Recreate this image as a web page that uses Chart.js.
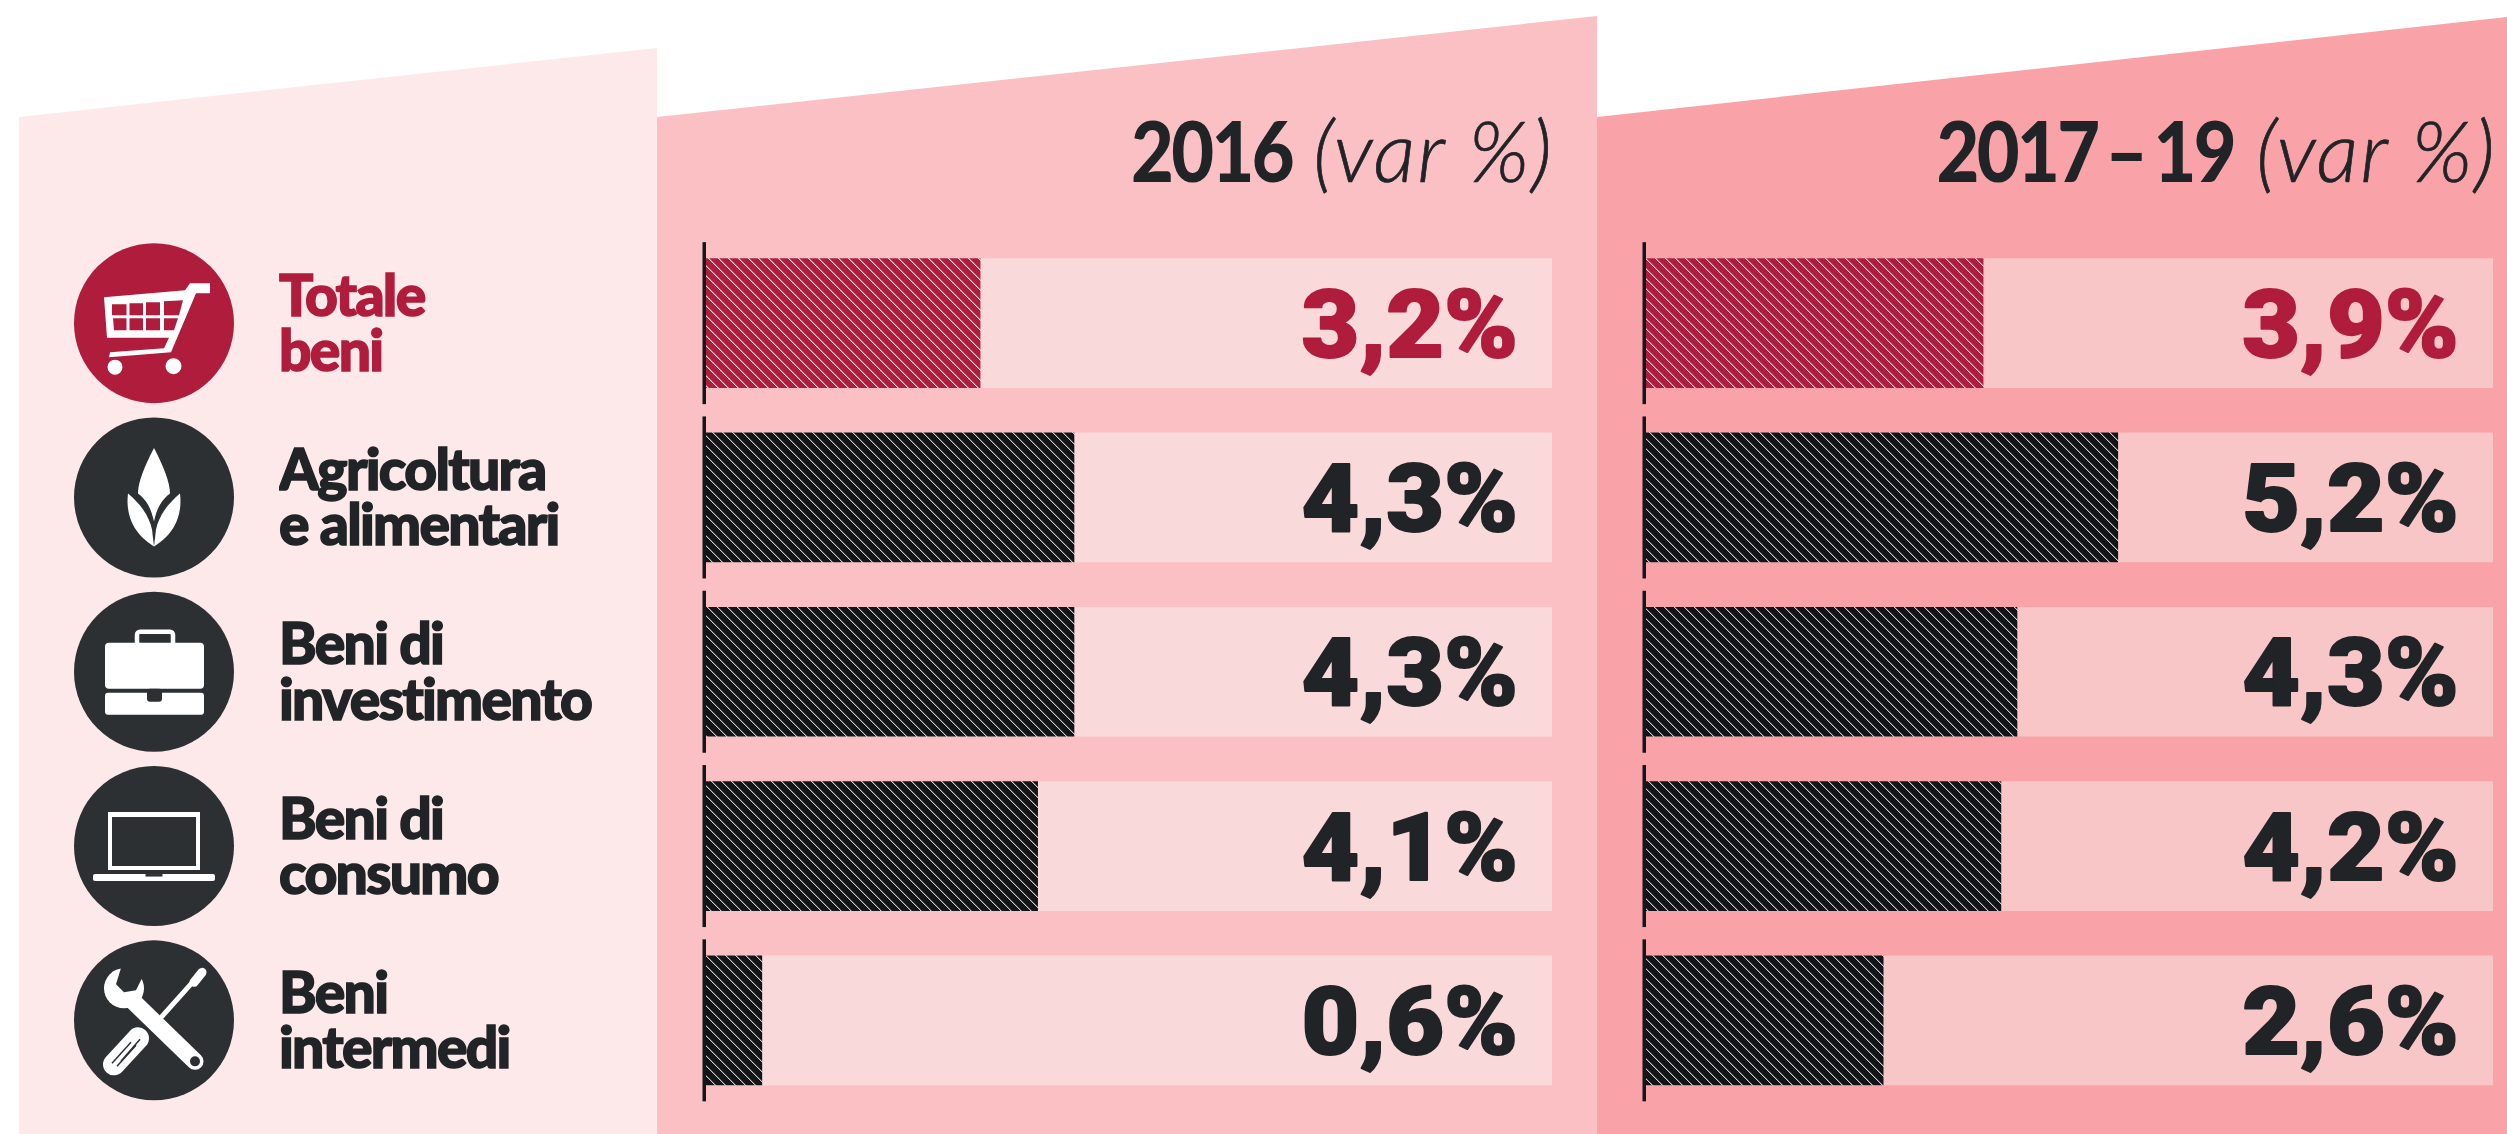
<!DOCTYPE html>
<html lang="it">
<head>
<meta charset="utf-8">
<title>Export beni 2016 e 2017-19</title>
<script src="https://cdn.jsdelivr.net/npm/chart.js@4"></script>
<style>
  html, body { margin: 0; background: #fff; }
  #page { position: relative; width: 2507px; height: 1134px; overflow: hidden; font-family: Lato, sans-serif; }
  .panel { position: absolute; top: 0; height: 1134px; }
  #panelA { left: 19px; width: 638px; background: #fde9e9; clip-path: polygon(0 117px, 638px 48px, 638px 1134px, 0 1134px); }
  #panelB { left: 657px; width: 940px; background: #fac0c4; clip-path: polygon(0 117px, 940px 16px, 940px 1134px, 0 1134px); }
  #panelC { left: 1597px; width: 910px; background: #f9a3a8; clip-path: polygon(0 117px, 910px 17px, 910px 1134px, 0 1134px); }
  canvas { position: absolute; top: 0; }
  #chartA { left: 0; }
  #chartB { left: 1597px; }
  .head { position: absolute; top: 100px; color: #212427; font-size: 84px; line-height: 100px; white-space: nowrap; text-align: right; }
  .head b { display: inline-block; font-weight: 900; letter-spacing: -3px; word-spacing: -8px; transform: scaleX(.88); transform-origin: 100% 50%; }
  .head i { font-weight: 300; letter-spacing: 2px; -webkit-text-stroke: .7px #212427; }
  #headA { right: 953px; }
  #headB { right: 10px; }
</style>
</head>
<body>
<div id="page">
  <div class="panel" id="panelA"></div>
  <div class="panel" id="panelB"></div>
  <div class="panel" id="panelC"></div>
  <canvas id="chartA" width="1597" height="1134"></canvas>
  <canvas id="chartB" width="910" height="1134"></canvas>
  <div class="head" id="headA"><b>2016</b> <i>(var %)</i></div>
  <div class="head" id="headB"><b>2017 – 19</b> <i>(var %)</i></div>
</div>
<script>
const categories = [['Totale', 'beni'], ['Agricoltura', 'e alimentari'], ['Beni di', 'investimento'], ['Beni di', 'consumo'], ['Beni', 'intermedi']];

// printed figures
const values2016 = [3.2, 4.3, 4.3, 4.1, 0.6];
const values2017 = [3.9, 5.2, 4.3, 4.2, 2.6];

// the bars in the picture are not quite proportional to the printed figures,
// so their lengths are read off separately, as % of the pale track
const barLength2016 = [32.4, 43.5, 43.5, 39.2, 6.6];
const barLength2017 = [39.8, 55.7, 43.8, 41.9, 28.0];
const track = [100, 100, 100, 100, 100];

const RED = '#b01c3c';
const DARK = '#212427';
const BAR_DARK = '#131416';
const ICON_DARK = '#2d3033';
const WHITE = '#ffffff';

function hatch(color, line, soft) {
  const size = 10;
  const tile = document.createElement('canvas');
  tile.width = tile.height = size;
  const c = tile.getContext('2d');
  c.fillStyle = color;
  c.fillRect(0, 0, size, size);
  for (let i = 0; i < size; i++) {
    c.fillStyle = soft;
    c.fillRect((i + 1) % size, i, 1, 1);
    c.fillStyle = line;
    c.fillRect(i, i, 1, 1);
  }
  return c.createPattern(tile, 'repeat');
}
const hatchRed = hatch(RED, '#f6d5da', '#cf6d83');
const hatchDark = hatch(BAR_DARK, '#c8c8c8', '#55565a');
const barColors = categories.map((_, i) => i === 0 ? hatchRed : hatchDark);

// black tick beside each bar + printed figure inside the track
const rowMarks = {
  id: 'rowMarks',
  afterDatasetsDraw(chart, args, opts) {
    const { ctx, chartArea, scales } = chart;
    ctx.save();
    ctx.fillStyle = '#14161a';
    categories.forEach((_, i) => {
      ctx.fillRect(chartArea.left - 3.5, scales.y.getPixelForTick(i) - 81, 3.5, 162);
    });
    ctx.font = '900 95px Roboto';
    ctx.letterSpacing = '0px';
    ctx.textAlign = 'left';
    ctx.textBaseline = 'alphabetic';
    ctx.lineWidth = 2;
    ctx.lineJoin = 'round';
    opts.values.forEach((v, i) => {
      ctx.fillStyle = ctx.strokeStyle = i === 0 ? RED : DARK;
      const text = v.toFixed(1).replace('.', ',') + '%';
      ctx.save();
      ctx.translate(scales.x.getPixelForValue(70.4), scales.y.getPixelForTick(i) + 33.5);
      ctx.scale(1.05, 1); // the original figures are a bit wider than Roboto
      ctx.fillText(text, 0, 0);
      ctx.strokeText(text, 0, 0);
      ctx.restore();
    });
    ctx.restore();
  }
};

function line(ctx, x1, y1, x2, y2, width) {
  ctx.lineWidth = width;
  ctx.beginPath();
  ctx.moveTo(x1, y1);
  ctx.lineTo(x2, y2);
  ctx.stroke();
}

const icons = [
  function cart(ctx, bg) {
    ctx.fill(new Path2D('M-50 -26L31 -33L36 -40L56 -40L56 -30L42 -30L17 29L-45 34L-44 29L10 25L15 14.5L-47 14.5Z'));
    ctx.beginPath();
    ctx.arc(-39, 44, 7.5, 0, 7);
    ctx.arc(19.5, 43, 8, 0, 7);
    ctx.fill();
    ctx.fillStyle = bg;
    ctx.fill(new Path2D('M-42 -19H-27.5V-8H-42ZM-24.5 -20H-11V-8H-24.5ZM-8 -21H6V-8H-8ZM10 -22L29 -23L25 -8H10ZM-41 -5H-27.5V7H-40ZM-24.5 -5H-11V7H-24.5ZM-8 -5H6V7H-8ZM10 -5H24L20 7H10Z'));
  },
  function leaf(ctx) {
    ctx.fill(new Path2D('M0 -49.5C-10 -30 -16 -15 -16 -4C-8 2 -3 10 0 24C3 10 8 2 16 -4C16 -15 10 -30 0 -49.5Z'));
    ctx.fill(new Path2D('M-26 -4C-14 6 -5 18 -2 32L0 49C-18 38 -29 20 -26 -4Z'));
    ctx.fill(new Path2D('M26 -4C14 6 5 18 2 32L0 49C18 38 29 20 26 -4Z'));
  },
  function briefcase(ctx, bg) {
    const p = new Path2D();
    p.roundRect(-49, -29, 99, 46, 4);
    p.roundRect(-49, 21, 99, 22, 3);
    ctx.fill(p);
    ctx.strokeStyle = WHITE;
    ctx.lineWidth = 4.5;
    ctx.beginPath();
    ctx.roundRect(-17, -40, 36, 14, 3);
    ctx.stroke();
    ctx.fillStyle = bg;
    ctx.beginPath();
    ctx.roundRect(-7, 17, 15, 13, 3);
    ctx.fill();
  },
  function laptop(ctx, bg) {
    ctx.fill(new Path2D('M-46 -34H46V24H-46ZM-42 -29V20H42V-29Z'), 'evenodd');
    ctx.beginPath();
    ctx.roundRect(-61, 28, 122, 7, 2);
    ctx.fill();
    ctx.fillStyle = bg;
    ctx.fillRect(-8.5, 28, 17, 2.5);
  },
  function tools(ctx, bg) {
    ctx.strokeStyle = WHITE;
    ctx.lineCap = 'round';
    // screwdriver
    line(ctx, 42, -42, 8, -4, 5);
    line(ctx, 40, -38, 48, -48, 9);
    line(ctx, -16, 18, -40, 44, 22);
    ctx.save();
    ctx.strokeStyle = bg;
    ctx.lineCap = 'butt';
    line(ctx, -18, 25, -37, 46, 1.5);
    line(ctx, -23, 22, -42, 43, 1.5);
    line(ctx, -14, 19, -33, 41, 1.5);
    ctx.restore();
    // wrench
    line(ctx, -24, -22, 41, 41, 17);
    ctx.beginPath();
    ctx.arc(-30, -32, 20, 0, 7);
    ctx.fill();
    ctx.fillStyle = bg;
    ctx.fill(new Path2D('M-38 -36L-30 -28L-18 -30L-8 -50L-30 -62Z'));
    ctx.beginPath();
    ctx.arc(41, 41, 5, 0, 7);
    ctx.fill();
  }
];

const rowIcons = {
  id: 'rowIcons',
  beforeDraw(chart) {
    chart.ctx.letterSpacing = '-1.7px';
  },
  afterDatasetsDraw(chart) {
    const { ctx, scales } = chart;
    icons.forEach((draw, i) => {
      const bg = i === 0 ? RED : ICON_DARK;
      ctx.save();
      ctx.translate(154, scales.y.getPixelForTick(i));
      ctx.fillStyle = bg;
      ctx.beginPath();
      ctx.arc(0, 0, 80, 0, 7);
      ctx.fill();
      ctx.fillStyle = WHITE;
      draw(ctx, bg);
      ctx.restore();
    });
  }
};

function makeChart(id, lengths, values, trackColor, padLeft, padRight, showLabels) {
  return new Chart(document.getElementById(id), {
    type: 'bar',
    data: {
      labels: categories,
      datasets: [
        { data: lengths, backgroundColor: barColors, order: 0 },
        { data: track, backgroundColor: trackColor, order: 1 }
      ]
    },
    options: {
      indexAxis: 'y',
      responsive: false,
      animation: false,
      barThickness: 129,
      grouped: false,
      layout: { padding: { left: padLeft, right: padRight, top: 236, bottom: 26.5 } },
      scales: {
        x: { display: false, min: 0, max: 100 },
        y: {
          display: showLabels,
          grid: { display: false },
          border: { display: false },
          afterFit(scale) {
            if (showLabels) scale.width = 427;
            scale.paddingTop = 0;
            scale.paddingBottom = 0;
          },
          ticks: {
            crossAlign: 'far',
            autoSkip: false,
            labelOffset: 2,
            color: c => c.index === 0 ? RED : DARK,
            textStrokeColor: c => c.index === 0 ? RED : DARK,
            textStrokeWidth: 1.5,
            font: { family: 'Lato', weight: '900', size: 57, lineHeight: 0.97 }
          }
        }
      },
      plugins: {
        legend: { display: false },
        tooltip: { enabled: false },
        rowMarks: { values }
      }
    },
    plugins: showLabels ? [rowMarks, rowIcons] : [rowMarks]
  });
}

makeChart('chartA', barLength2016, values2016, '#fad9db', 279, 45, true);
makeChart('chartB', barLength2017, values2017, '#f9c6c8', 49, 14, false);
</script>
</body>
</html>
